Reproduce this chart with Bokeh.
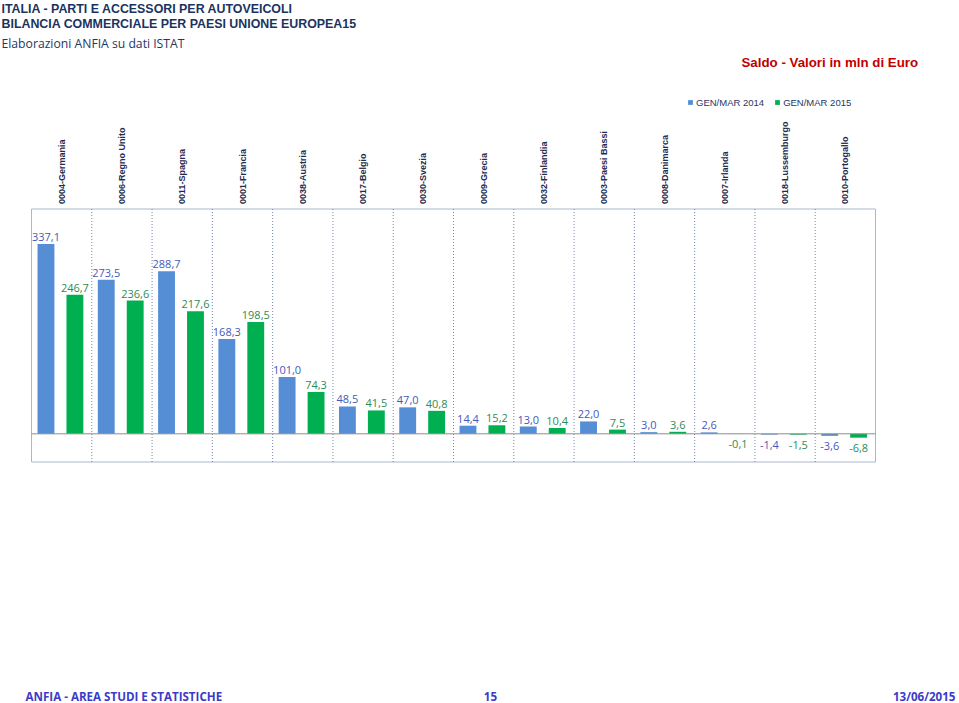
import math
from bokeh.plotting import figure
from bokeh.models import ColumnDataSource, Range1d, Label, Legend, LegendItem
from bokeh.transform import dodge
from bokeh.core.properties import value
from bokeh.embed import file_html
from bokeh.resources import INLINE

# ---- data ----
categories = ["0004-Germania", "0006-Regno Unito", "0011-Spagna", "0001-Francia",
              "0038-Austria", "0017-Belgio", "0030-Svezia", "0009-Grecia",
              "0032-Finlandia", "0003-Paesi Bassi", "0008-Danimarca", "0007-Irlanda",
              "0018-Lussemburgo", "0010-Portogallo"]
saldo_2014 = [337.1, 273.5, 288.7, 168.3, 101.0, 48.5, 47.0, 14.4, 13.0, 22.0, 3.0, 2.6, -1.4, -3.6]
saldo_2015 = [246.7, 236.6, 217.6, 198.5, 74.3, 41.5, 40.8, 15.2, 10.4, 7.5, 3.6, -0.1, -1.5, -6.8]
series_names = ["GEN/MAR 2014", "GEN/MAR 2015"]

# ---- layout / style constants ----
W, H = 959, 703
PLOT_L, PLOT_R, PLOT_T, PLOT_B = 31, 875, 208.5, 461.5   # plot-area box in page pixels
Y_MIN, Y_MAX = -50, 399                                   # value axis limits
N = len(categories)

BLUE = "#558ED5"
GREEN = "#00B050"
BLUE_TXT = "#4659B8"
GREEN_TXT = "#2E8B57"
NAVY = "#1F3864"

# ranges extended so that the plot area box lands where the reference has it
ux = N / (PLOT_R - PLOT_L)
uy = (Y_MAX - Y_MIN) / (PLOT_B - PLOT_T)
x_range = Range1d(-PLOT_L * ux, N + (W - PLOT_R) * ux)
y_range = Range1d(Y_MIN - (H - PLOT_B) * uy, Y_MAX + PLOT_T * uy)

p = figure(width=W, height=H, x_range=x_range, y_range=y_range,
           x_axis_location=None, y_axis_location=None, output_backend="svg",
           toolbar_location=None, title=None, min_border=0)
p.xgrid.visible = False
p.ygrid.visible = False
p.outline_line_color = None

xc = [i + 0.5 for i in range(N)]
src = ColumnDataSource(dict(xc=xc, cat=categories, v14=saldo_2014, v15=saldo_2015))

# plot-area frame and category separators
p.quad(left=0, right=N, bottom=Y_MIN, top=Y_MAX, fill_color=None,
       line_color="#A9B7CF", line_width=1)
sep = ColumnDataSource(dict(xs=list(range(1, N))))
p.segment(x0="xs", y0=Y_MIN, x1="xs", y1=Y_MAX, source=sep,
          line_color="#7486AE", line_dash="1 2", line_width=1)

r14 = p.vbar(x=dodge("xc", -0.26), top="v14", bottom=0, width=0.28,
             source=src, fill_color=BLUE, line_color=None)
r15 = p.vbar(x=dodge("xc", 0.22), top="v15", bottom=0, width=0.28,
             source=src, fill_color=GREEN, line_color=None)

# zero line
p.segment(x0=0, y0=0, x1=N, y1=0, line_color="#8C8C8C", line_width=1)

# category labels (vertical, above the plot area)
p.text(x="xc", y=Y_MAX, text="cat", source=src, angle=math.pi / 2,
       text_align="left", text_baseline="middle", y_offset=-5,
       text_font=value("Liberation Sans"), text_font_style="bold",
       text_font_size="9px", text_color="#1F2C50")


def fmt(v):
    return f"{v:.1f}".replace(".", ",")


for vals, off, col in ((saldo_2014, -0.26, BLUE_TXT), (saldo_2015, 0.22, GREEN_TXT)):
    pos = [(x, v) for x, v in zip(xc, vals) if v >= 0]
    neg = [(x, v) for x, v in zip(xc, vals) if v < 0]
    ps = ColumnDataSource(dict(xc=[x for x, _ in pos], val=[v for _, v in pos], lab=[fmt(v) for _, v in pos]))
    ns = ColumnDataSource(dict(xc=[x for x, _ in neg], val=[v for _, v in neg], lab=[fmt(v) for _, v in neg]))
    p.text(x=dodge("xc", off), y="val", text="lab", source=ps,
           text_align="center", text_baseline="alphabetic", y_offset=-7,
           text_font=value("Open Sans"), text_font_size="11px", text_color=col)
    p.text(x=dodge("xc", off), y="val", text="lab", source=ns,
           text_align="center", text_baseline="top", y_offset=6,
           text_font=value("Open Sans"), text_font_size="11px", text_color=col)

legend = Legend(items=[LegendItem(label=series_names[0], renderers=[r14]),
                       LegendItem(label=series_names[1], renderers=[r15])],
                orientation="horizontal", location=(687, H - 107.5),
                glyph_width=6, glyph_height=6, label_height=10, label_standoff=3,
                spacing=10, padding=0, margin=0,
                border_line_alpha=0, background_fill_alpha=0,
                label_text_font="Liberation Sans", label_text_font_size="9.5px",
                label_text_color=NAVY)
p.add_layout(legend)


def lab(text, x, baseline, font, size, color, bold=False, align="left"):
    p.add_layout(Label(text=text, x=x, y=H - baseline, x_units="screen", y_units="screen",
                       text_font=font, text_font_size=size, text_color=color,
                       text_font_style="bold" if bold else "normal",
                       text_align=align, text_baseline="alphabetic"))


lab("ITALIA - PARTI E ACCESSORI PER AUTOVEICOLI", 1, 8, "Liberation Sans", "12.4px", "#1A3360", bold=True)
lab("BILANCIA COMMERCIALE PER PAESI UNIONE EUROPEA15", 1, 23.5, "Liberation Sans", "12.4px", "#1A3360", bold=True)
lab("Elaborazioni ANFIA su dati ISTAT", 1, 42.5, "Open Sans", "12.2px", NAVY)
lab("Saldo - Valori in mln di Euro", 741, 62, "Liberation Sans", "13.3px", "#C00000", bold=True)
lab("ANFIA - AREA STUDI E STATISTICHE", 25, 695.5, "Open Sans", "11.6px", "#3B3BC8", bold=True)
lab("15", 490, 695.5, "Open Sans", "11.6px", "#3B3BC8", bold=True, align="center")
lab("13/06/2015", 955, 695.5, "Open Sans", "11.6px", "#3B3BC8", bold=True, align="right")

open("out.html", "w").write(file_html(p, INLINE))
